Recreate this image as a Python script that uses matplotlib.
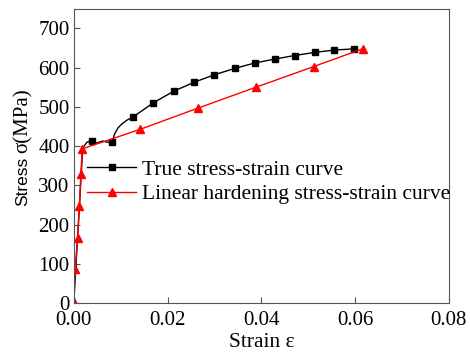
import matplotlib
matplotlib.use('Agg')
import matplotlib.pyplot as plt

# True stress-strain curve (dense line, markers on a subset)
true_strain = [0, 0.0010, 0.0019, 0.0028, 0.0038, 0.0049, 0.0062, 0.0072, 0.0082,
               0.0087, 0.0094, 0.0102, 0.0113, 0.0126, 0.0169, 0.0213, 0.0257,
               0.0300, 0.0343, 0.0386, 0.0429, 0.0471, 0.0514, 0.0556, 0.0598]
true_stress = [0, 205, 395, 410, 414, 408, 413, 410, 411,
               431, 446, 456, 466, 474, 510, 540, 563,
               582, 598, 612, 622, 631, 639, 645, 648]
true_marks = [4, 8] + list(range(13, 25))

# Linear hardening curve
lin_strain = [0, 0.0003, 0.0008, 0.0012, 0.0015, 0.0018, 0.0142, 0.0265, 0.0388, 0.0512, 0.0616]
lin_stress = [3, 88, 167, 247, 329, 393, 443, 497, 550, 603, 648]

serif = 'Liberation Serif'
plt.rcParams['font.family'] = serif

fig = plt.figure(figsize=(4.70, 3.54), dpi=100)
ax = fig.add_axes([0.157, 0.144, 0.798, 0.831])

ax.plot(true_strain, true_stress, color='black', lw=1.0, marker='s', ms=5,
        markevery=true_marks, label='True stress-strain curve')
ax.plot(lin_strain, lin_stress, color='red', lw=1.0, marker='^', ms=5.5,
        label='Linear hardening stress-strain curve')

ax.set_xlim(0, 0.08)
ax.set_ylim(0, 750)
ax.set_xticks([0, 0.02, 0.04, 0.06, 0.08])
ax.set_xticklabels(['0.00', '0.02', '0.04', '0.06', '0.08'])
ax.set_yticks(range(0, 701, 100))
ax.tick_params(direction='in', labelsize=15, length=4, color='#555555', pad=3)
ax.tick_params(axis='x', pad=6)
for s in ax.spines.values():
    s.set_color('#555555')

ax.set_xlabel('Strain ε', fontsize=15.5, labelpad=2)

# y label: "Stress" in sans, "σ(MPa)" in serif
fig.text(0.049, 0.5565, 'Stress', rotation=90, ha='center', va='top',
         family='Liberation Sans', fontsize=12.5)
fig.text(0.049, 0.5565 + 4 / 354, 'σ(MPa)', rotation=90, ha='center', va='bottom',
         family=serif, fontsize=15)

ax.legend(loc='upper left', bbox_to_anchor=(0.035, 0.488), frameon=False, fontsize=15.5,
          handlelength=2.3, handletextpad=0.27, borderaxespad=0, borderpad=0,
          labelspacing=0.22)

fig.savefig('out.png', dpi=100)
